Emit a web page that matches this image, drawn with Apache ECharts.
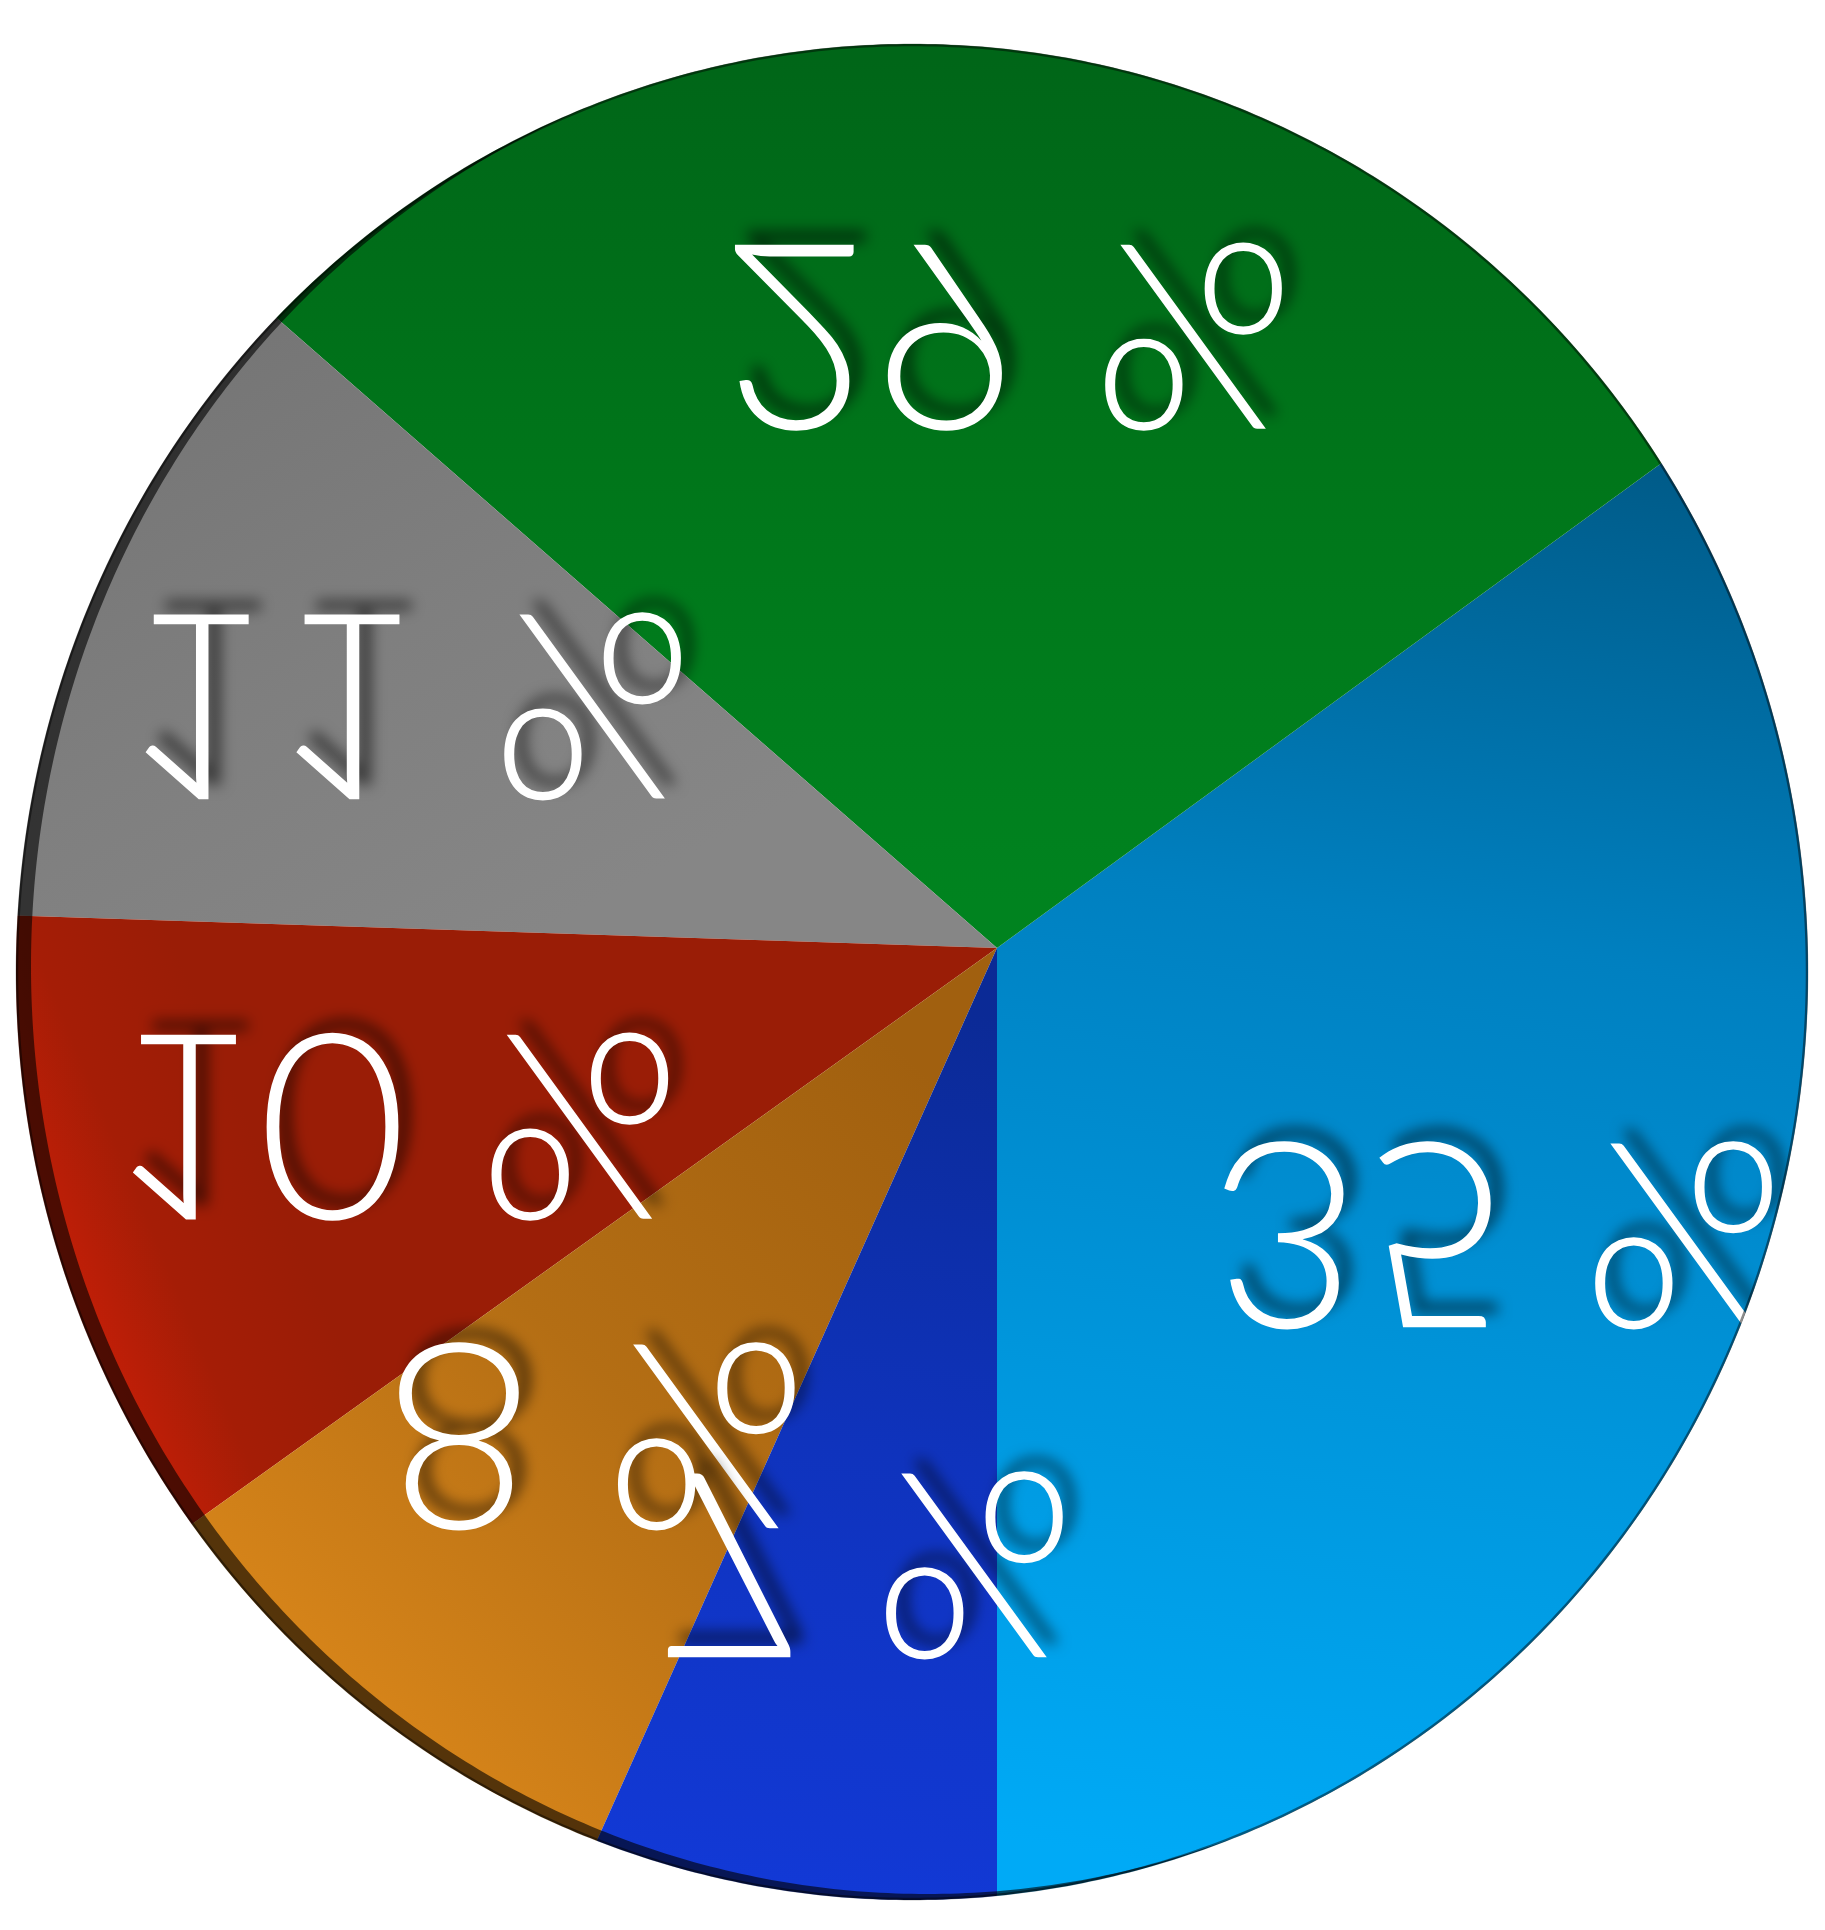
<!DOCTYPE html>
<html>
<head>
<meta charset="utf-8">
<script src="https://cdn.jsdelivr.net/npm/echarts@6/dist/echarts.min.js"></script>
<style>
  html, body { margin: 0; padding: 0; background: #ffffff; }
  #chart { width: 1825px; height: 1930px; transform: scaleY(-1); }
</style>
</head>
<body>
<div id="chart"></div>
<script>
// ---- data ----
const categories = ['Light blue', 'Green', 'Gray', 'Red', 'Orange', 'Dark blue'];
const values = [35.0, 28.5, 10.9, 10.4, 8.4, 6.7];   // labels show rounded %
const labelSuffix = ' %';

// ---- geometry / style (image coordinates; the chart is drawn mirrored) ----
const W = 1825, H = 1930;
const fy = y => H - y;
const APEX = [997, 948];
const ELL = { cx: 912, cy: 972, rx: 896, ry: 928 };
const SIDE_SHIFT = [15, -6];
// small label nudges in picture pixels [dx, dy], one per slice
const labelNudge = [[-55, -3], [-17, 3], [-11, -21], [-7, -10], [-7, -2], [-3, 0]];

function lin(x1, y1, x2, y2, stops) {
  return { type: 'linear', x: x1, y: fy(y1), x2: x2, y2: fy(y2), global: true,
    colorStops: stops.map((c, i) => ({ offset: i / (stops.length - 1), color: c })) };
}
const sliceColors = [
  lin(1500, 450, 1250, 1880, ['#005c8a', '#0080c0', '#0096dc', '#00aaf6']),
  lin(1000, 60, 1000, 900, ['#006618', '#00761a', '#00831f']),
  lin(300, 320, 600, 900, ['#767676', '#7f7f7f', '#868686']),
  lin(20, 1250, 260, 1150, ['#cc1f08', '#a51d06', '#9a1d06']),
  lin(900, 1050, 300, 1700, ['#a1600f', '#b46e14', '#d9861a']),
  lin(900, 1000, 750, 1890, ['#0b2a96', '#0f33bd', '#1239d6'])
];

// ellipse outline points, starting at the rightmost point
function ellipsePts(cx, cy, rx, ry, reverse) {
  const n = 720, pts = [];
  for (let i = 0; i <= n; i++) {
    const t = (reverse ? -1 : 1) * i / n * Math.PI * 2;
    pts.push([cx + rx * Math.cos(t), fy(cy + ry * Math.sin(t))]);
  }
  return pts;
}
// white mask outside the disc: rectangle + slit + ellipse in the opposite direction
const rightMid = fy(ELL.cy);
const maskPts = [[W + 20, rightMid], [W + 20, -20], [-20, -20], [-20, H + 20], [W + 20, H + 20], [W + 20, rightMid]]
  .concat(ellipsePts(ELL.cx, ELL.cy, ELL.rx, ELL.ry, true));
// dark visible side of the disc: outer ellipse minus shifted ellipse
const sidePts = ellipsePts(ELL.cx, ELL.cy, ELL.rx, ELL.ry, false)
  .concat(ellipsePts(ELL.cx + SIDE_SHIFT[0], ELL.cy + SIDE_SHIFT[1], ELL.rx, ELL.ry, true));
const rimPts = ellipsePts(ELL.cx, ELL.cy, ELL.rx - 1, ELL.ry - 1, false);

const chart = echarts.init(document.getElementById('chart'), null, { renderer: 'canvas' });
chart.setOption({
  animation: false,
  backgroundColor: '#ffffff',
  series: [{
    type: 'pie',
    silent: true,
    center: [APEX[0], fy(APEX[1])],
    radius: [0, 1240],
    startAngle: 90,
    clockwise: true,
    avoidLabelOverlap: false,
    labelLayout: function (params) {
      const n = labelNudge[params.dataIndex] || [0, 0];
      return { dx: n[0], dy: -n[1], hideOverlap: false };
    },
    label: {
      show: true,
      position: 'inside',
      formatter: p => Math.round(p.percent) + labelSuffix,
      color: '#ffffff',
      fontFamily: 'Lato',
      fontWeight: 300,
      fontSize: 260,
      padding: [40, 0, 0, 0],
      textShadowColor: 'rgba(0,0,0,0.55)',
      textShadowBlur: 14,
      textShadowOffsetX: 12,
      textShadowOffsetY: 14
    },
    labelLine: { show: false },
    emphasis: { disabled: true },
    data: categories.map((n, i) => ({ name: n, value: values[i], itemStyle: { color: sliceColors[i] } }))
  }],
  graphic: [
    { type: 'polygon', z: 50, silent: true, shape: { points: sidePts }, style: { fill: 'rgba(0,0,0,0.6)' } },
    { type: 'polygon', z: 100, silent: true, shape: { points: maskPts }, style: { fill: '#ffffff' } },
    { type: 'polyline', z: 101, silent: true, shape: { points: rimPts },
      style: { fill: null, stroke: 'rgba(0,0,0,0.45)', lineWidth: 2.5 } }
  ]
});
</script>
</body>
</html>
